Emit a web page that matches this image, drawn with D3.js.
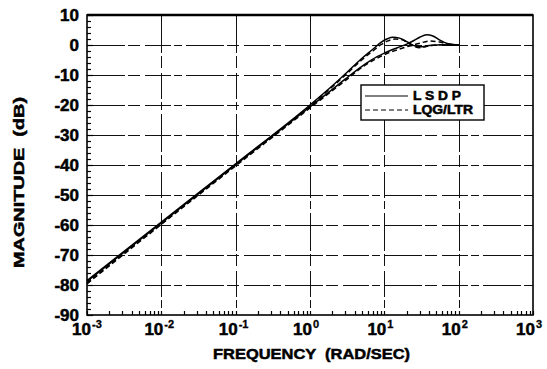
<!DOCTYPE html>
<html>
<head>
<meta charset="utf-8">
<script src="https://cdn.jsdelivr.net/npm/d3@7"></script>
<style>
  html, body { margin: 0; padding: 0; background: #fff; }
  svg { display: block; font-family: "Liberation Sans", Arial, Helvetica, sans-serif; }
  .heavy { font-weight: bold; stroke: #000; stroke-width: 0.5px; }
</style>
</head>
<body>
<svg id="chart" width="547" height="369"></svg>
<script>
// Frequency points (rad/s) and magnitudes (dB) for each loop
const lsdp1Freq = [0.001, 0.01, 0.1, 1, 2, 3, 5, 7, 9, 11, 13, 16, 20, 25, 30, 40, 60, 100];
const lsdp1Mag  = [-78.5, -59, -39.6, -20, -13.6, -9.6, -4.4, -1.4, 0.9, 2.1, 2.6, 2.3, 1.1, -0.2, -0.6, -0.2, 0.1, 0];
const lqg1Freq  = [0.001, 0.01, 0.1, 1, 2, 3, 5, 7, 9, 11, 14, 17, 20, 25, 30, 40, 60, 100];
const lqg1Mag   = [-79.3, -59.5, -40, -20.3, -13.9, -10, -4.9, -2.0, 0.1, 1.3, 2.0, 1.8, 1.0, -0.5, -0.9, -0.3, 0.1, 0];
const lsdp2Freq = [0.001, 0.01, 0.1, 1, 2, 3, 5, 8, 10, 15, 20, 25, 30, 37, 45, 55, 70, 100];
const lsdp2Mag  = [-78.8, -59.3, -39.9, -20.6, -14.8, -11.3, -7.1, -3.9, -2.7, -0.9, 0.3, 1.5, 2.6, 3.4, 3.0, 1.7, 0.5, 0];
const lqg2Freq  = [0.001, 0.01, 0.1, 1, 2, 3, 5, 8, 10, 15, 20, 30, 40, 55, 70, 100];
const lqg2Mag   = [-79.6, -59.8, -40.3, -21, -15.2, -11.8, -7.5, -4.4, -3.2, -1.6, -0.6, 0.6, 1.3, 1.0, 0.4, 0];

const xTickExp = [-3, -2, -1, 0, 1, 2, 3];
const yTicks = [10, 0, -10, -20, -30, -40, -50, -60, -70, -80, -90];
const legendLabels = ["L S D P", "LQG/LTR"];

const svg = d3.select("#chart");
const plotL = 87, plotR = 533, plotT = 15, plotB = 315;

const x = d3.scaleLog().domain([1e-3, 1e3]).range([plotL, plotR]);
const y = d3.scaleLinear().domain([-90, 10]).range([plotB, plotT]);

// grid lines (broken dashes as in plotter output)
const grid = svg.append("g").attr("stroke", "#111").attr("stroke-width", 1)
  .attr("stroke-dasharray", "38,3,12,5,26,3,8,4");
grid.selectAll("line.h").data(yTicks.filter(v => v > -90 && v < 10)).join("line")
  .attr("class", "h")
  .attr("x1", plotL).attr("x2", plotR)
  .attr("y1", d => y(d) + 0.5).attr("y2", d => y(d) + 0.5);
grid.selectAll("line.v").data(xTickExp.slice(1, -1)).join("line")
  .attr("class", "v")
  .attr("x1", d => Math.round(x(Math.pow(10, d))) + 0.5)
  .attr("x2", d => Math.round(x(Math.pow(10, d))) + 0.5)
  .attr("y1", plotT).attr("y2", plotB);

// minor ticks, inward
const yMinor = d3.range(-90, 10.01, 2);
svg.append("g").selectAll("line").data(yMinor).join("line")
  .attr("x1", plotL).attr("x2", d => plotL + (d % 10 === 0 ? 6 : 4))
  .attr("y1", d => y(d) + 0.5).attr("y2", d => y(d) + 0.5)
  .attr("stroke", "#000").attr("stroke-width", 1.2);

const xMinor = [];
for (let e = -3; e < 3; e++) for (let m = 1; m <= 9; m++) xMinor.push(m * Math.pow(10, e));
xMinor.push(1000);
svg.append("g").selectAll("line").data(xMinor).join("line")
  .attr("x1", d => Math.round(x(d)) + 0.5).attr("x2", d => Math.round(x(d)) + 0.5)
  .attr("y1", plotB).attr("y2", plotB - 4)
  .attr("stroke", "#000").attr("stroke-width", 1.2);

// frame
svg.append("rect").attr("x", plotL).attr("y", plotT)
  .attr("width", plotR - plotL).attr("height", plotB - plotT)
  .attr("fill", "none").attr("stroke", "#000").attr("stroke-width", 1.6);
svg.append("line").attr("x1", plotL).attr("x2", plotR).attr("y1", plotT).attr("y2", plotT)
  .attr("stroke", "#000").attr("stroke-width", 2.4);

// curves
const line = d3.line().x(d => x(d[0])).y(d => y(d[1])).curve(d3.curveMonotoneX);
const curves = [
  { f: lsdp1Freq, m: lsdp1Mag, dash: null },
  { f: lsdp2Freq, m: lsdp2Mag, dash: null },
  { f: lqg1Freq, m: lqg1Mag, dash: "5,3" },
  { f: lqg2Freq, m: lqg2Mag, dash: "5,3" }
];
svg.append("g").selectAll("path").data(curves).join("path")
  .attr("d", c => line(c.f.map((f, i) => [f, c.m[i]])))
  .attr("fill", "none").attr("stroke", "#000").attr("stroke-width", 1.5)
  .attr("stroke-dasharray", c => c.dash);

// y tick labels
svg.append("g").selectAll("text").data(yTicks).join("text")
  .attr("class", "heavy")
  .attr("x", 79).attr("y", d => y(d)).attr("dy", "0.36em")
  .attr("text-anchor", "end").attr("font-size", 17)
  .text(d => d);

// x tick labels: 10 with superscript exponent
const xl = svg.append("g").selectAll("g").data(xTickExp).join("g")
  .attr("transform", d => `translate(${x(Math.pow(10, d))},0)`);
xl.append("text").attr("class", "heavy").attr("x", d => d === -3 ? 4 : 2).attr("y", 335)
  .attr("text-anchor", "end").attr("font-size", 17).text("10");
xl.append("text").attr("class", "heavy").attr("x", d => d === -3 ? 5 : 3).attr("y", 328)
  .attr("font-size", 11).style("stroke-width", "0.3px").text(d => d);

// axis titles
svg.append("text").attr("class", "heavy").attr("x", 213).attr("y", 359)
  .attr("font-size", 15).attr("xml:space", "preserve")
  .attr("textLength", 197).attr("lengthAdjust", "spacingAndGlyphs")
  .text("FREQUENCY  (RAD/SEC)");
svg.append("text").attr("class", "heavy").attr("transform", "translate(24,268) rotate(-90)")
  .attr("font-size", 15).attr("xml:space", "preserve")
  .attr("textLength", 171).attr("lengthAdjust", "spacingAndGlyphs")
  .text("MAGNITUDE  (dB)");

// legend
const lg = svg.append("g");
lg.append("rect").attr("x", 361).attr("y", 85).attr("width", 123).attr("height", 35)
  .attr("fill", "#fff").attr("stroke", "#000").attr("stroke-width", 1.4);
const ly = [96, 110];
lg.selectAll("line").data(legendLabels).join("line")
  .attr("x1", 365).attr("x2", 408).attr("y1", (d, i) => ly[i]).attr("y2", (d, i) => ly[i])
  .attr("stroke", "#000").attr("stroke-width", 1.2)
  .attr("stroke-dasharray", (d, i) => i ? "5,3" : null);
lg.selectAll("text").data(legendLabels).join("text")
  .attr("class", "heavy")
  .attr("x", 413).attr("y", (d, i) => ly[i]).attr("dy", "0.36em")
  .attr("font-size", 12).attr("xml:space", "preserve")
  .attr("textLength", (d, i) => i ? 60 : 48).attr("lengthAdjust", "spacingAndGlyphs")
  .text(d => d);
</script>
</body>
</html>
